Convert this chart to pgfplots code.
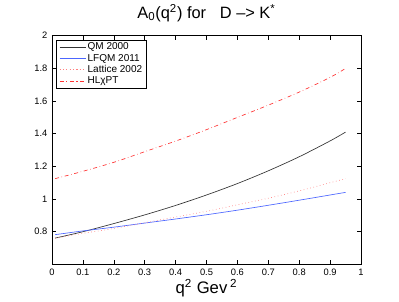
\documentclass[border=0pt]{standalone}
\usepackage{pgfplots}
\pgfplotsset{compat=1.18}
\usepackage{fontspec}
\setmainfont{Liberation Sans}
\usetikzlibrary{calc}
\definecolor{mblue}{rgb}{0.3,0.4,1}
\begin{document}
\begin{tikzpicture}
\begin{axis}[
  name=ax,
  scale only axis,
  width=231.75pt, height=171.5pt,
  xmin=0, xmax=1, ymin=0.6, ymax=2,
  xtick={0,0.1,...,1.0}, ytick={0.8,1,1.2,1.4,1.6,1.8,2},
  xticklabels={0,0.1,0.2,0.3,0.4,0.5,0.6,0.7,0.8,0.9,1},
  yticklabels={0.8,1,1.2,1.4,1.6,1.8,2},
  tick align=inside, tick pos=both,
  major tick length=3pt,
  every tick/.style={black, thin},
  axis line style={black, line width=0.6pt},
  tick label style={font=\fontsize{7}{8}\selectfont},
  /pgf/number format/assume math mode=true,
  title={A\textsubscript{0}(q\textsuperscript{2}) for\ \ \ D --> K\textsuperscript{*}},
  title style={font=\fontsize{12.3}{14}\selectfont, yshift=1pt},
  xlabel={q\textsuperscript{2} Gev\,\textsuperscript{2}},
  xlabel style={font=\fontsize{12.5}{14}\selectfont, yshift=4pt},
  legend style={at={(rel axis cs:0.012,0.982)}, anchor=north west,
    font=\fontsize{7.5}{8.5}\selectfont, draw=black, line width=0.6pt,
    inner xsep=2.4pt, inner ysep=1.2pt, nodes={inner sep=0.8pt, text depth=0.15em},
    row sep=0pt, legend cell align=left},
  legend image post style={xscale=1.17},
]
\addplot[black!80, line width=0.5pt, smooth] coordinates {
 (0.01,0.761) (0.1,0.80) (0.2,0.85) (0.3,0.903) (0.4,0.961) (0.5,1.025)
 (0.6,1.095) (0.7,1.173) (0.8,1.259) (0.9,1.356) (0.95,1.41)};
\addlegendentry{QM 2000}
\addplot[mblue, line width=0.5pt, smooth] coordinates {
 (0.01,0.782) (0.1,0.805) (0.2,0.828) (0.3,0.853) (0.4,0.878) (0.5,0.904)
 (0.6,0.932) (0.7,0.962) (0.8,0.993) (0.9,1.025) (0.95,1.041)};
\addlegendentry{LFQM 2011}
\addplot[red!50!white, dotted, line width=0.5pt, smooth] coordinates {
 (0.01,0.76) (0.1,0.79) (0.2,0.82) (0.3,0.855) (0.4,0.89) (0.5,0.925)
 (0.6,0.965) (0.7,1.005) (0.8,1.05) (0.9,1.10) (0.95,1.125)};
\addlegendentry{Lattice 2002}
\addplot[red!80!white, dash dot, line width=0.5pt, smooth] coordinates {
 (0.01,1.125) (0.1,1.17) (0.2,1.225) (0.3,1.29) (0.4,1.355) (0.5,1.425)
 (0.6,1.50) (0.7,1.575) (0.8,1.655) (0.9,1.745) (0.95,1.80)};
\addlegendentry{HLχPT}
\end{axis}
\useasboundingbox ($(ax.south west)+(-39pt,-26.8pt)$) rectangle ($(ax.north east)+(28.5pt,26.8pt)$);
\end{tikzpicture}
\end{document}
